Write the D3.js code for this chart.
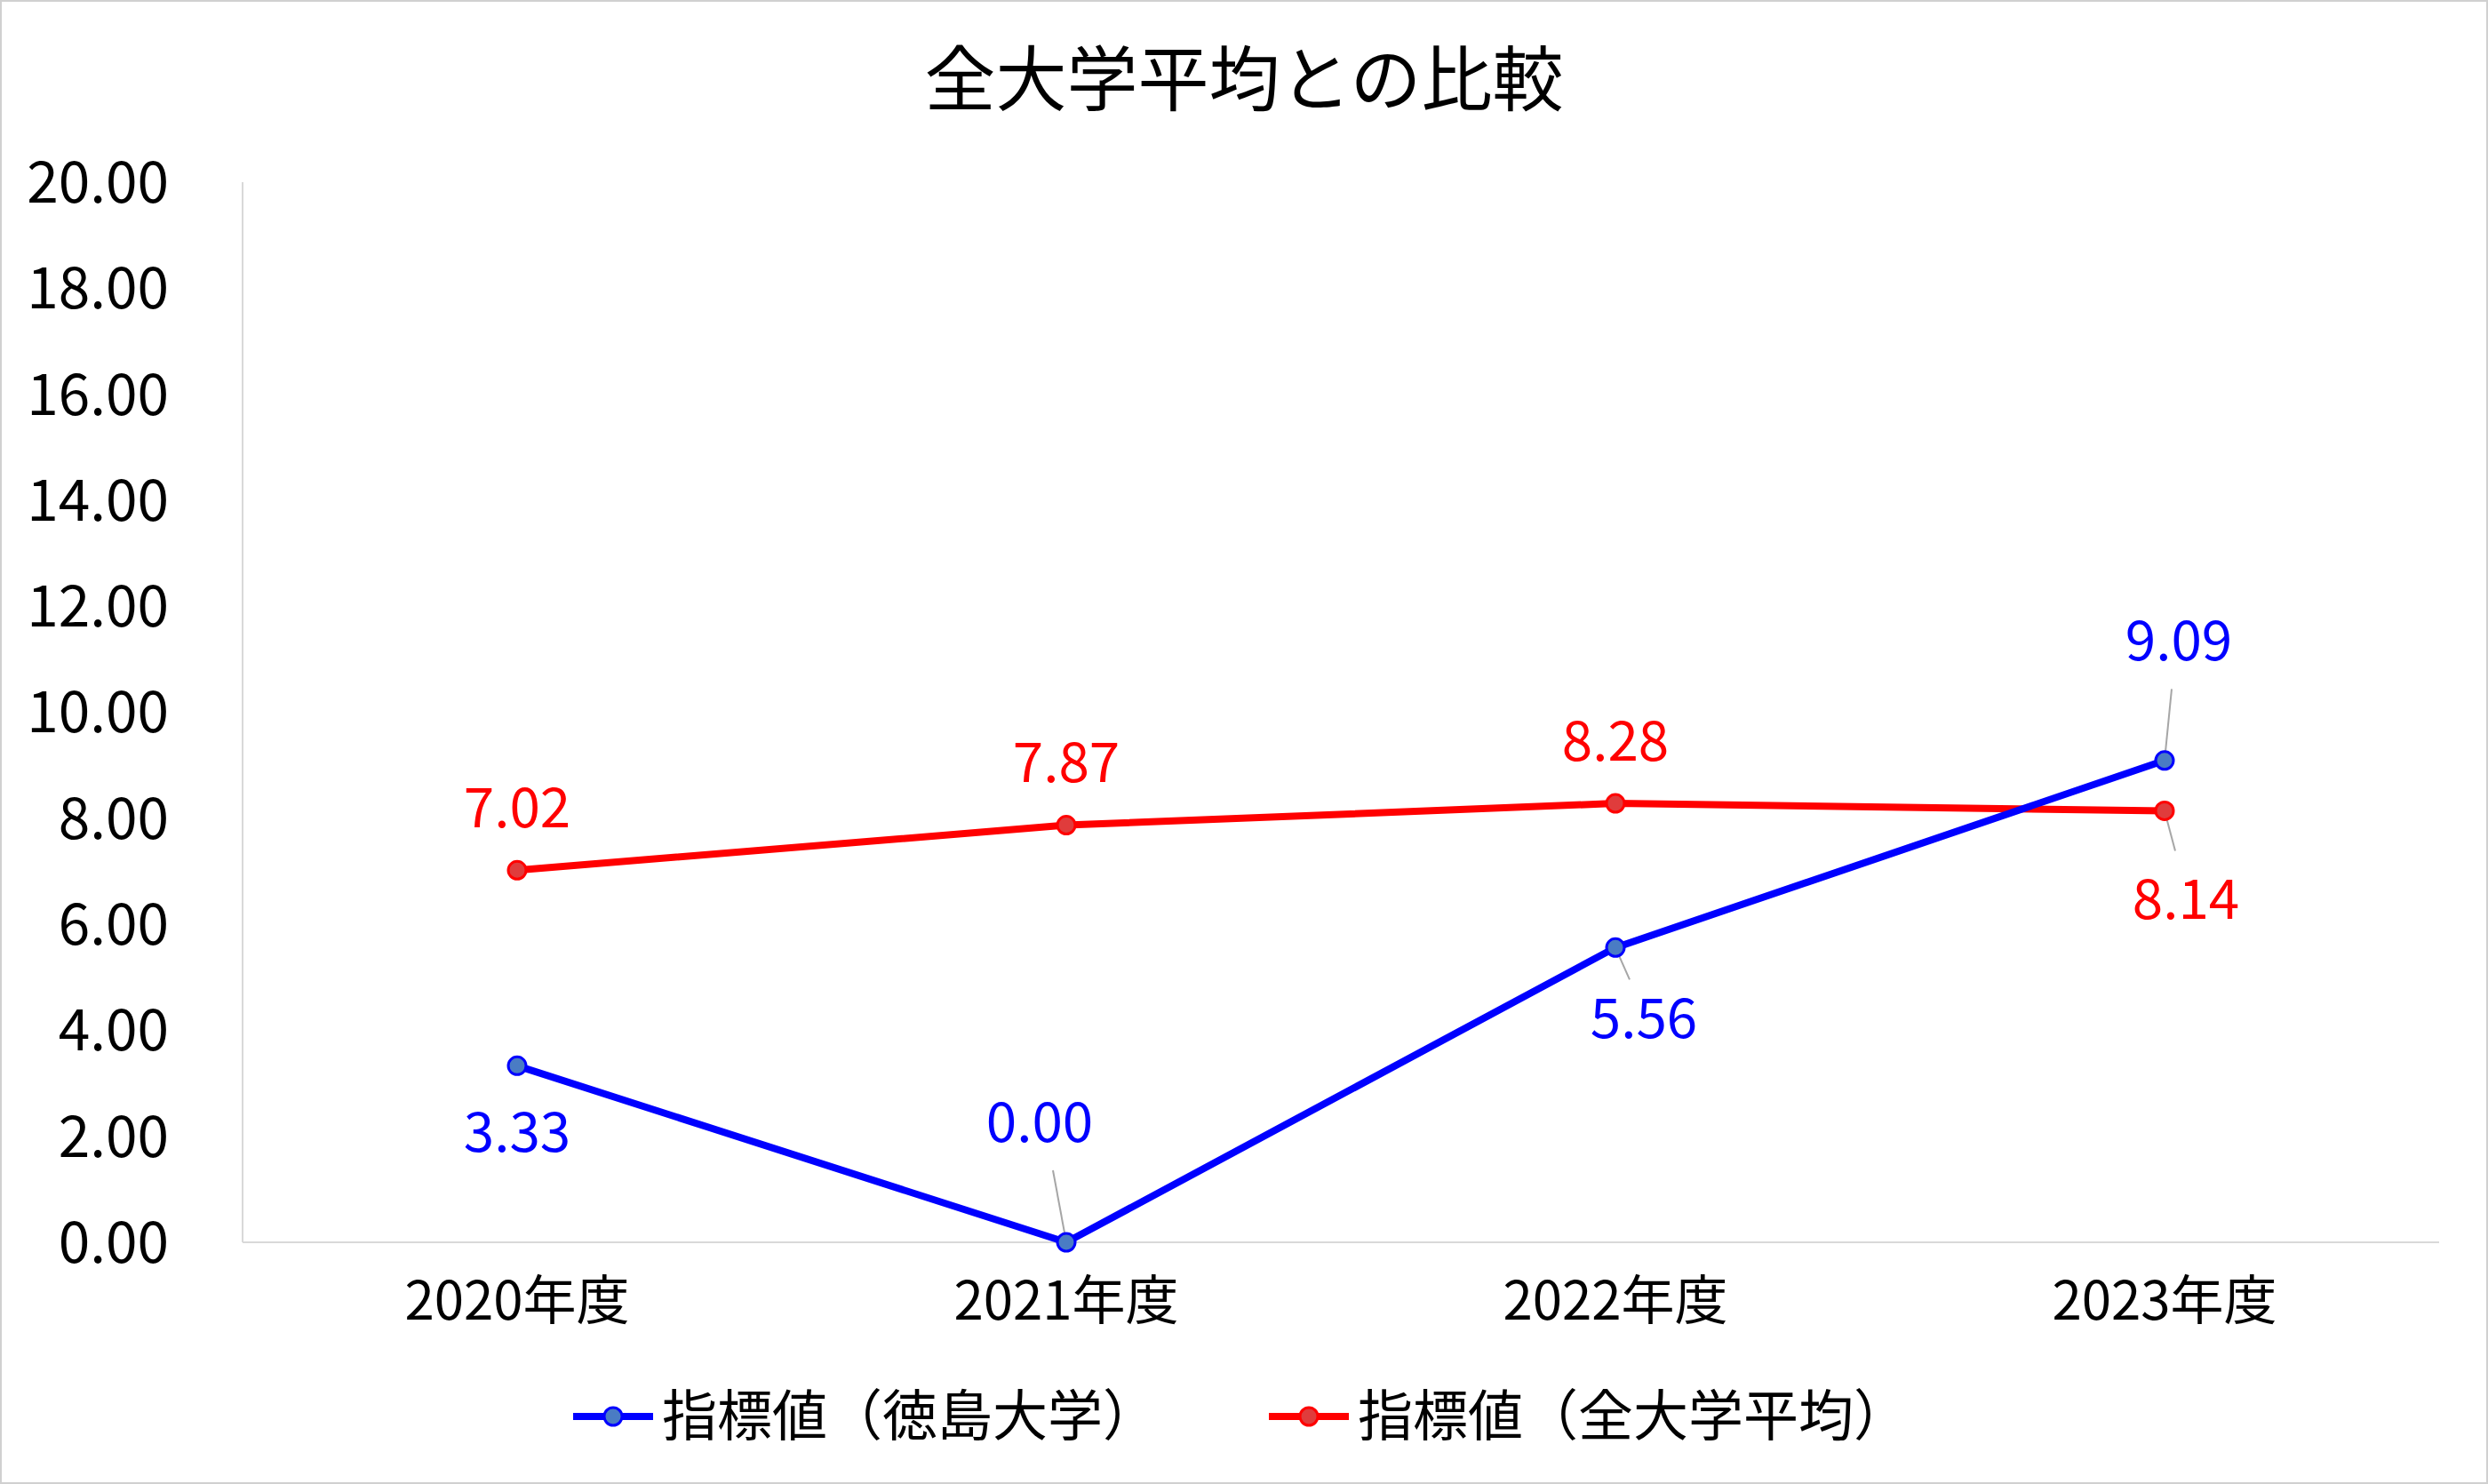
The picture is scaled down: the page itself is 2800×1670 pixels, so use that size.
<!DOCTYPE html>
<html><head><meta charset="utf-8">
<script src="https://cdn.jsdelivr.net/npm/d3@7"></script>
<style>body{margin:0;background:#fff}</style>
</head><body>
<svg id="chart" width="2800" height="1670"></svg>
<script>
const categories = ["2020年度", "2021年度", "2022年度", "2023年度"];
const tokushima = [3.33, 0.00, 5.56, 9.09];
const allAvg = [7.02, 7.87, 8.28, 8.14];
const seriesNames = ["指標値（徳島大学）", "指標値（全大学平均）"];
const yTicks = [0, 2, 4, 6, 8, 10, 12, 14, 16, 18, 20];

// label offsets (dx, dy) from the point, leader line when far
const blueLabelOff = [[0, 75], [-30, -135], [32, 80], [16, -134]];
const redLabelOff = [[0, -70], [0, -70], [0, -70], [24, 100]];

const font = "'Noto Sans CJK JP', 'Noto Sans', sans-serif";
const svg = d3.select("#chart");
svg.append("rect").attr("x", 1).attr("y", 1).attr("width", 2798).attr("height", 1668)
  .attr("fill", "#fff").attr("stroke", "#d0d0d0").attr("stroke-width", 2);

const x = d3.scaleBand().domain(categories).range([273, 2745]);
const y = d3.scaleLinear().domain([0, 20]).range([1398, 205]);

svg.append("text").attr("x", 1400).attr("y", 118).attr("text-anchor", "middle")
  .attr("font-family", font).attr("font-size", 80).text("全大学平均との比較");

// axes
svg.append("line").attr("x1", 273).attr("x2", 273).attr("y1", 205).attr("y2", 1398)
  .attr("stroke", "#d9d9d9").attr("stroke-width", 2);
svg.append("line").attr("x1", 273).attr("x2", 2745).attr("y1", y(0)).attr("y2", y(0))
  .attr("stroke", "#d9d9d9").attr("stroke-width", 2);

const yAxis = svg.append("g").attr("transform", "translate(190,0)")
  .call(d3.axisLeft(y).tickValues(yTicks).tickSize(0).tickFormat(d3.format(".2f")));
yAxis.select(".domain").remove();
yAxis.selectAll("text").attr("font-family", font).attr("font-size", 64).attr("fill", "#000")
  .attr("x", 0).attr("dy", "0.35em");

const xAxis = svg.append("g").attr("transform", `translate(0,${y(0)})`)
  .call(d3.axisBottom(x).tickSize(0));
xAxis.select(".domain").remove();
xAxis.selectAll("text").attr("font-family", font).attr("font-size", 60).attr("fill", "#000").attr("dy", "1.4em");

const cx = d => x(d) + x.bandwidth() / 2;
const line = d3.line().x((d, i) => cx(categories[i])).y(d => y(d));

function drawSeries(vals, color, fill, offs) {
  svg.append("path").datum(vals).attr("d", line).attr("fill", "none")
    .attr("stroke", color).attr("stroke-width", 8);
  vals.forEach((v, i) => {
    const px = cx(categories[i]), py = y(v);
    const [dx, dy] = offs[i];
    if (Math.abs(dx) > 10) {
      svg.append("line").attr("x1", px + dx * 0.5).attr("y1", py + dy * (dy < 0 ? 0.6 : 0.45))
        .attr("x2", px).attr("y2", py).attr("stroke", "#a6a6a6").attr("stroke-width", 2);
    }
    svg.append("text").attr("x", px + dx).attr("y", py + dy).attr("dy", "0.35em")
      .attr("text-anchor", "middle").attr("font-family", font).attr("font-size", 62)
      .attr("fill", color).text(d3.format(".2f")(v));
  });
  svg.selectAll(null).data(vals).enter().append("circle")
    .attr("cx", (d, i) => cx(categories[i])).attr("cy", d => y(d)).attr("r", 10)
    .attr("fill", fill).attr("stroke", color).attr("stroke-width", 3);
}
drawSeries(allAvg, "#ff0000", "#e03c3c", redLabelOff);
drawSeries(tokushima, "#0000ff", "#4a7cc4", blueLabelOff);

// legend
const legend = [[645, "#0000ff", "#4a7cc4"], [1428, "#ff0000", "#e03c3c"]];
legend.forEach(([lx, c, f], i) => {
  svg.append("line").attr("x1", lx).attr("x2", lx + 90).attr("y1", 1594).attr("y2", 1594)
    .attr("stroke", c).attr("stroke-width", 8);
  svg.append("circle").attr("cx", lx + 45).attr("cy", 1594).attr("r", 10)
    .attr("fill", f).attr("stroke", c).attr("stroke-width", 3);
  svg.append("text").attr("x", lx + 100).attr("y", 1594).attr("dy", "0.35em")
    .attr("font-family", font).attr("font-size", 62).text(seriesNames[i]);
});
</script>
</body></html>
